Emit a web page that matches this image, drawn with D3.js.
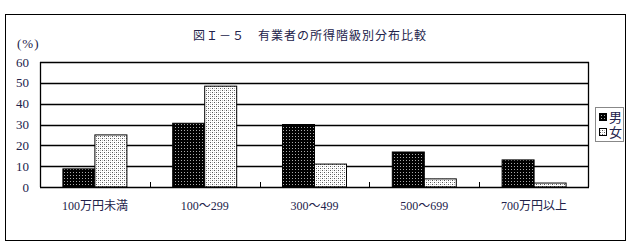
<!DOCTYPE html>
<html>
<head>
<meta charset="utf-8">
<script src="https://cdn.jsdelivr.net/npm/d3@7"></script>
<style>
  body { margin: 0; background: #fff; }
  text { font-family: "Liberation Serif", "Noto Sans CJK JP", serif; fill: #22224a; }
</style>
</head>
<body>
<div id="chart"></div>
<script>
const categories = ["100万円未満", "100～299", "300～499", "500～699", "700万円以上"];
const male = [8.7, 30.6, 30, 16.8, 13];
const female = [25, 48.4, 11, 3.9, 1.9];
const seriesNames = ["男", "女"];
const yTicks = [0, 10, 20, 30, 40, 50, 60];

const svg = d3.select("#chart").append("svg")
  .attr("width", 636)
  .attr("height", 246);

const defs = svg.append("defs");
const pm = defs.append("pattern")
  .attr("id", "patMale").attr("patternUnits", "userSpaceOnUse")
  .attr("width", 3).attr("height", 3);
pm.append("rect").attr("width", 3).attr("height", 3).attr("fill", "#000");
pm.append("rect").attr("x", 1).attr("y", 1).attr("width", 1).attr("height", 1).attr("fill", "#aaa");

const pf = defs.append("pattern")
  .attr("id", "patFemale").attr("patternUnits", "userSpaceOnUse")
  .attr("width", 4).attr("height", 4);
pf.append("rect").attr("width", 4).attr("height", 4).attr("fill", "#fff");
pf.append("rect").attr("x", 0).attr("y", 0).attr("width", 1).attr("height", 1).attr("fill", "#555");
pf.append("rect").attr("x", 2).attr("y", 2).attr("width", 1).attr("height", 1).attr("fill", "#555");
pf.append("rect").attr("x", 2).attr("y", 0).attr("width", 1).attr("height", 1).attr("fill", "#bbb");
pf.append("rect").attr("x", 0).attr("y", 2).attr("width", 1).attr("height", 1).attr("fill", "#bbb");

// outer frame
svg.append("rect")
  .attr("x", 5.5).attr("y", 14.5).attr("width", 620).attr("height", 226)
  .attr("fill", "none").attr("stroke", "#000").attr("stroke-width", 1);

svg.append("text")
  .attr("x", 310).attr("y", 40)
  .attr("text-anchor", "middle")
  .style("font-size", "12px")
  .style("letter-spacing", "1px")
  .text("図Ｉ－５　有業者の所得階級別分布比較");

svg.append("text")
  .attr("x", 17).attr("y", 48)
  .style("font-size", "13px")
  .style("letter-spacing", "1px")
  .text("(%)");

const plotL = 40, plotR = 589, plotT = 62, plotB = 187;

const x = d3.scaleBand().domain(categories).range([plotL, plotR]);
const y = d3.scaleLinear().domain([0, 60]).range([plotB, plotT]);
const barW = 32;

// gridlines
svg.append("g").selectAll("line")
  .data(yTicks.filter(d => d > 0))
  .enter().append("line")
  .attr("x1", plotL).attr("x2", plotR)
  .attr("y1", d => Math.round(y(d)) + 0.5).attr("y2", d => Math.round(y(d)) + 0.5)
  .attr("stroke", "#000").attr("stroke-width", 1.3);

// plot frame sides
svg.append("line").attr("x1", plotL + 0.5).attr("x2", plotL + 0.5)
  .attr("y1", plotT).attr("y2", plotB).attr("stroke", "#000").attr("stroke-width", 1.3);
svg.append("line").attr("x1", plotR - 0.5).attr("x2", plotR - 0.5)
  .attr("y1", plotT).attr("y2", plotB).attr("stroke", "#000").attr("stroke-width", 1.3);

// y labels
svg.append("g").selectAll("text")
  .data(yTicks)
  .enter().append("text")
  .attr("x", 29).attr("y", d => y(d) + 4.5)
  .attr("text-anchor", "end")
  .style("font-size", "13px")
  .text(d => d);

// bars
const groups = svg.append("g").selectAll("g")
  .data(categories)
  .enter().append("g");

groups.append("rect")
  .attr("x", d => x(d) + x.bandwidth() / 2 - barW)
  .attr("y", (d, i) => y(male[i]))
  .attr("width", barW)
  .attr("height", (d, i) => plotB - y(male[i]))
  .attr("fill", "url(#patMale)")
  .attr("stroke", "#000").attr("stroke-width", 1);

groups.append("rect")
  .attr("x", d => x(d) + x.bandwidth() / 2)
  .attr("y", (d, i) => y(female[i]))
  .attr("width", barW)
  .attr("height", (d, i) => plotB - y(female[i]))
  .attr("fill", "url(#patFemale)")
  .attr("stroke", "#000").attr("stroke-width", 1);

// baseline and ticks
svg.append("line").attr("x1", plotL).attr("x2", plotR)
  .attr("y1", plotB + 0.5).attr("y2", plotB + 0.5)
  .attr("stroke", "#000").attr("stroke-width", 1.5);

svg.append("g").selectAll("line")
  .data(categories.slice(1))
  .enter().append("line")
  .attr("x1", d => Math.round(x(d)) + 0.5).attr("x2", d => Math.round(x(d)) + 0.5)
  .attr("y1", plotB - 5).attr("y2", plotB)
  .attr("stroke", "#000").attr("stroke-width", 1);

// x labels
svg.append("g").selectAll("text")
  .data(categories)
  .enter().append("text")
  .attr("x", d => x(d) + x.bandwidth() / 2)
  .attr("y", 210)
  .attr("text-anchor", "middle")
  .style("font-size", "12px")
  .text(d => d);

// legend
const lg = svg.append("g");
lg.append("rect")
  .attr("x", 595.5).attr("y", 107.5).attr("width", 28).attr("height", 34)
  .attr("fill", "#fff").attr("stroke", "#888").attr("stroke-width", 1);
const fills = ["url(#patMale)", "url(#patFemale)"];
seriesNames.forEach((name, i) => {
  lg.append("rect")
    .attr("x", 599.5).attr("y", 113.5 + i * 15).attr("width", 7).attr("height", 7)
    .attr("fill", fills[i]).attr("stroke", "#000");
  lg.append("text")
    .attr("x", 609).attr("y", 122 + i * 15)
    .style("font-size", "13px")
    .text(name);
});
</script>
</body>
</html>
